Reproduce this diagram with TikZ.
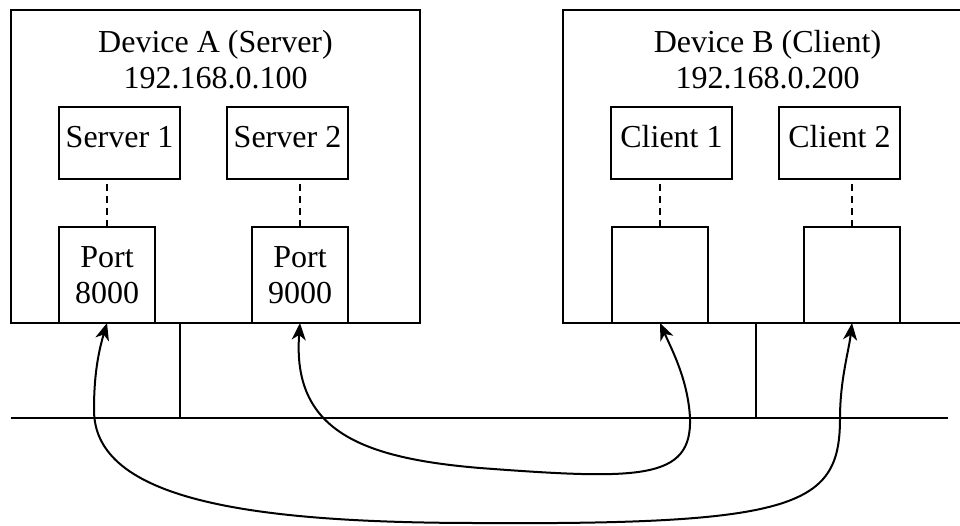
\documentclass[tikz,border=0pt]{standalone}
\usepackage{fontspec}
\setmainfont{Liberation Serif}
\usetikzlibrary{positioning, arrows.meta}

\begin{document}
\begin{tikzpicture}[x=1pt, y=-1pt, line width=2pt,
    every node/.style={font=\fontsize{32}{36}\selectfont, inner sep=0pt, outer sep=0pt},
    devbox/.style={rectangle, draw, minimum width=409pt, minimum height=313pt},
    appbox/.style={rectangle, draw, minimum width=121pt, minimum height=72pt, text height=21pt, text depth=13pt},
    portbox/.style={rectangle, draw, minimum width=96pt, minimum height=96pt, align=center},
    wire/.style={dash pattern=on 7pt off 5pt},
    link/.style={{Stealth[length=17pt,width=14pt,inset=5pt]}-{Stealth[length=17pt,width=14pt,inset=5pt]}}]
    \useasboundingbox (0,0) rectangle (960,525);

        % Define devices
        \node (devA) [devbox] at (215.5,166.5) {};
        \node (devB) [devbox] at (767.5,166.5) {};
        \node (titleA) [align=center, below=20pt of devA.north] {Device A (Server)\\192.168.0.100};
        \node (titleB) [align=center, below=20pt of devB.north] {Device B (Client)\\192.168.0.200};

        % Define applications
        \node (srv1) [appbox] at (119.5,143) {Server 1};
        \node (srv2) [appbox, right=47pt of srv1] {Server 2};
        \node (cli1) [appbox] at (671.5,143) {Client 1};
        \node (cli2) [appbox, right=47pt of cli1] {Client 2};

        % Define ports
        \node (p8000) [portbox, below=48pt of srv1.south west, anchor=north west] {Port\\8000};
        \node (p9000) [portbox, below=48pt of srv2.south east, anchor=north east] {Port\\9000};
        \node (pc1) [portbox, below=48pt of cli1.south west, anchor=north west, xshift=1pt] {};
        \node (pc2) [portbox, below=48pt of cli2.south east, anchor=north east] {};

        % Bind ports
        \draw[wire] (p8000.north) -- (p8000.north |- srv1.south);
        \draw[wire] (p9000.north) -- (p9000.north |- srv2.south);
        \draw[wire] (pc1.north) -- (pc1.north |- cli1.south);
        \draw[wire] (pc2.north) -- (pc2.north |- cli2.south);

        % Network
        \coordinate (busL) at (11,418);
        \coordinate (busR) at (948,418);
        \coordinate (tapA) at (180,418);
        \coordinate (tapB) at (756,418);
        \draw (busL) -- (busR);
        \draw (tapA) -- (tapA |- devA.south);
        \draw (tapB) -- (tapB |- devB.south);

        % Connections
        \draw[link] (p8000.south) .. controls (96,360) and (94,385) .. (94,410)
            .. controls (94,500) and (250,523) .. (480,523)
            .. controls (800,525) and (840,505) .. (840,418)
            .. controls (840,380) and (849,350) .. (pc2.south);
        \draw[link] (p9000.south) .. controls (292,430) and (360,458) .. (480,468)
            .. controls (640,480) and (692,480) .. (690,418)
            .. controls (688,380) and (672,350) .. (pc1.south);

    \end{tikzpicture}
\end{document}
